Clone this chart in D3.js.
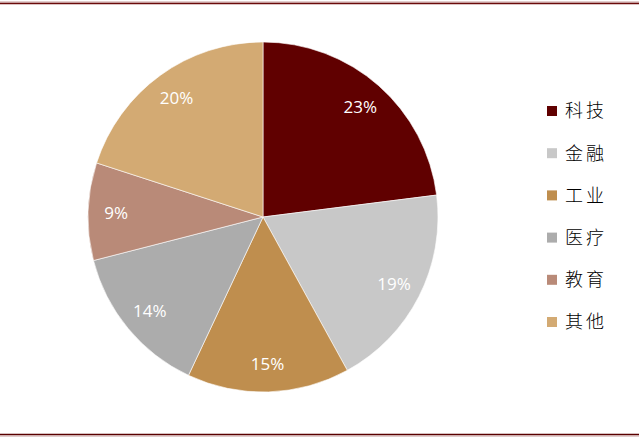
<!DOCTYPE html>
<html><head><meta charset="utf-8">
<script src="https://cdn.jsdelivr.net/npm/d3@7"></script>
<style>html,body{margin:0;padding:0;background:#fff;}svg{display:block;}</style>
</head><body>
<svg id="c" width="639" height="438"></svg>
<script>
const categories = ["科技","金融","工业","医疗","教育","其他"];
const values = [23,19,15,14,9,20];
const labels = ["23%","19%","15%","14%","9%","20%"];
const colors = ["#600000","#c8c8c8","#bf8e4e","#acacac","#b98a78","#d3aa73"];

const svg = d3.select("#c");
// border lines
svg.append("line").attr("x1",0).attr("x2",639).attr("y1",2).attr("y2",2).attr("stroke","#c49a9a").attr("stroke-width",1);
svg.append("line").attr("x1",0).attr("x2",639).attr("y1",3.5).attr("y2",3.5).attr("stroke","#6b0a0a").attr("stroke-width",1.3);
svg.append("line").attr("x1",0).attr("x2",639).attr("y1",434.5).attr("y2",434.5).attr("stroke","#5a0000").attr("stroke-width",1.5);
svg.append("line").attr("x1",0).attr("x2",639).attr("y1",436).attr("y2",436).attr("stroke","#c49a9a").attr("stroke-width",1);

const cx = 263, cy = 217, r = 175;
const color = d3.scaleOrdinal().domain(categories).range(colors);
const pie = d3.pie().sort(null).value(d => d.v);
const data = categories.map((c,i)=>({c, v: values[i], l: labels[i]}));
const arcs = pie(data);
const arc = d3.arc().innerRadius(0).outerRadius(r);
const labelArc = d3.arc().innerRadius(r*0.84).outerRadius(r*0.84);

const g = svg.append("g").attr("transform",`translate(${cx},${cy})`);
g.selectAll("path").data(arcs).join("path")
  .attr("d",arc).attr("fill",d=>color(d.data.c))
  .attr("stroke","#fff").attr("stroke-width",0.6);
g.selectAll("text").data(arcs).join("text")
  .attr("transform",d=>`translate(${labelArc.centroid(d)})`)
  .attr("text-anchor","middle").attr("dy","0.36em")
  .attr("fill","#fff").attr("font-family","'Open Sans','Liberation Sans',sans-serif")
  .attr("font-size",17).text(d=>d.data.l);

const legendY = d3.scalePoint().domain(categories).range([111,322]);
const lg = svg.append("g");
const items = lg.selectAll("g").data(categories).join("g")
  .attr("transform",d=>`translate(547,${legendY(d)})`);
items.append("rect").attr("x",0).attr("y",-5).attr("width",10).attr("height",10).attr("fill",d=>color(d));
items.append("text").attr("x",18).attr("dy","0.36em")
  .attr("font-family","'Noto Sans CJK SC',sans-serif").attr("font-size",18).attr("font-weight",300)
  .attr("letter-spacing",3).attr("fill","#000").text(d=>d);
</script>
</body></html>
